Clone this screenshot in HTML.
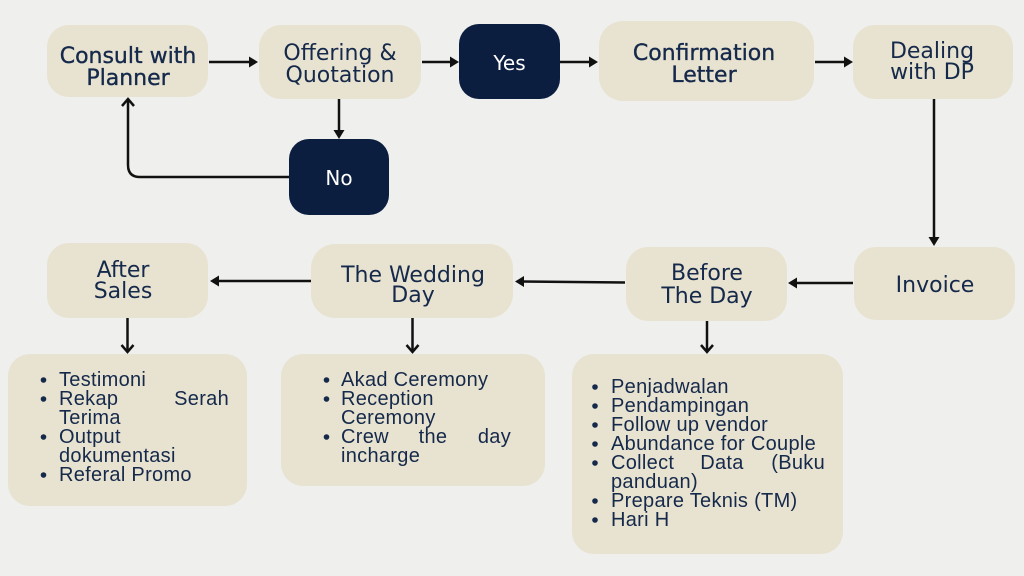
<!DOCTYPE html>
<html>
<head>
<meta charset="utf-8">
<style>
  html,body{margin:0;padding:0;}
  body{width:1024px;height:576px;overflow:hidden;background:#efefee;}
  svg{display:block;}
  .t{font-family:"DejaVu Sans","Liberation Sans",sans-serif;font-size:22px;fill:#15294b;text-anchor:middle;}
  .sb{stroke:#15294b;stroke-width:0.35px;}
  .w{fill:#ffffff;font-size:20px;}
  .l{font-family:"Liberation Sans",sans-serif;font-size:20px;fill:#15294b;letter-spacing:0.3px;}
  .box{fill:#e8e2d0;}
  .nav{fill:#0b1e40;}
  .ln{stroke:#111;stroke-width:2.5;fill:none;}
  .hd{fill:#111;}
  .bl{fill:#15294b;}
</style>
</head>
<body>
<svg width="1024" height="576" viewBox="0 0 1024 576" xmlns="http://www.w3.org/2000/svg">
  <rect x="0" y="0" width="1024" height="576" fill="#efefee"/>

  <!-- Top row boxes -->
  <rect class="box" x="47" y="25" width="161" height="72" rx="22"/>
  <rect class="box" x="259" y="25" width="162" height="74" rx="22"/>
  <rect class="nav" x="459" y="24" width="101" height="75" rx="20"/>
  <rect class="nav" x="289" y="139" width="100" height="76" rx="20"/>
  <rect class="box" x="599" y="21" width="215" height="80" rx="24"/>
  <rect class="box" x="853" y="25" width="160" height="74" rx="22"/>

  <!-- Middle row boxes -->
  <rect class="box" x="854" y="247" width="161" height="73" rx="22"/>
  <rect class="box" x="626" y="247" width="161" height="74" rx="22"/>
  <rect class="box" x="311" y="244" width="202" height="74" rx="24"/>
  <rect class="box" x="47" y="243" width="161" height="75" rx="22"/>

  <!-- List boxes -->
  <rect class="box" x="8" y="354" width="239" height="152" rx="22"/>
  <rect class="box" x="281" y="354" width="264" height="132" rx="22"/>
  <rect class="box" x="572" y="354" width="271" height="200" rx="22"/>

  <!-- Connectors -->
  <line class="ln" x1="209" y1="62" x2="251" y2="62"/>
  <polygon class="hd" points="258,62 249,56.5 249,67.5"/>

  <line class="ln" x1="422" y1="62" x2="452" y2="62"/>
  <polygon class="hd" points="459,62 450,56.5 450,67.5"/>

  <line class="ln" x1="560" y1="62" x2="591" y2="62"/>
  <polygon class="hd" points="598,62 589,56.5 589,67.5"/>

  <line class="ln" x1="815" y1="62" x2="846" y2="62"/>
  <polygon class="hd" points="853,62 844,56.5 844,67.5"/>

  <line class="ln" x1="339" y1="99" x2="339" y2="132"/>
  <polygon class="hd" points="339,139 333.5,130 344.5,130"/>

  <path class="ln" d="M289,177 L140,177 Q128,177 128,165 L128,100"/>
  <polyline class="ln" points="122,106 128,99 134,106" stroke-linejoin="miter"/>

  <line class="ln" x1="934" y1="99" x2="934" y2="238"/>
  <polygon class="hd" points="934,246 928.5,237 939.5,237"/>

  <line class="ln" x1="853" y1="283" x2="795" y2="283"/>
  <polygon class="hd" points="788,283 797,277.5 797,288.5"/>

  <line class="ln" x1="625" y1="282.5" x2="522" y2="281.5"/>
  <polygon class="hd" points="515,281.5 524,276 524,287"/>

  <line class="ln" x1="311" y1="281" x2="217" y2="281"/>
  <polygon class="hd" points="210,281 219,275.5 219,286.5"/>

  <line class="ln" x1="127.5" y1="318" x2="127.5" y2="351"/>
  <polyline class="ln" points="121.5,345 127.5,352 133.5,345"/>

  <line class="ln" x1="412.5" y1="318" x2="412.5" y2="351"/>
  <polyline class="ln" points="406.5,345 412.5,352 418.5,345"/>

  <line class="ln" x1="707" y1="321" x2="707" y2="351"/>
  <polyline class="ln" points="701,345 707,352 713,345"/>

  <!-- Titles -->
  <text class="t sb" x="128" y="63">Consult with</text>
  <text class="t sb" x="128" y="85">Planner</text>

  <text class="t" x="340" y="60">Offering &amp;</text>
  <text class="t" x="340" y="82">Quotation</text>

  <text class="t w" x="509.5" y="70">Yes</text>
  <text class="t w" x="339" y="185">No</text>

  <text class="t sb" x="704" y="60">Confirmation</text>
  <text class="t sb" x="704" y="82">Letter</text>

  <text class="t" x="932" y="58">Dealing</text>
  <text class="t" x="932" y="79">with DP</text>

  <text class="t" x="935" y="292">Invoice</text>

  <text class="t" x="707" y="280">Before</text>
  <text class="t" x="707" y="303">The Day</text>

  <text class="t" x="413" y="282">The Wedding</text>
  <text class="t" x="413" y="302">Day</text>

  <text class="t" x="123" y="277">After</text>
  <text class="t" x="123" y="298">Sales</text>

  <!-- After Sales list -->
  <circle class="bl" cx="43.5" cy="380" r="2.8"/>
  <circle class="bl" cx="43.5" cy="399" r="2.8"/>
  <circle class="bl" cx="43.5" cy="437" r="2.8"/>
  <circle class="bl" cx="43.5" cy="475" r="2.8"/>
  <text class="l" x="59" y="386">Testimoni</text>
  <text class="l" x="59" y="405">Rekap</text>
  <text class="l" x="229" y="405" text-anchor="end">Serah</text>
  <text class="l" x="59" y="424">Terima</text>
  <text class="l" x="59" y="443">Output</text>
  <text class="l" x="59" y="462">dokumentasi</text>
  <text class="l" x="59" y="481">Referal Promo</text>

  <!-- Wedding list -->
  <circle class="bl" cx="326.5" cy="380" r="2.8"/>
  <circle class="bl" cx="326.5" cy="399" r="2.8"/>
  <circle class="bl" cx="326.5" cy="437" r="2.8"/>
  <text class="l" x="341" y="386">Akad Ceremony</text>
  <text class="l" x="341" y="405">Reception</text>
  <text class="l" x="341" y="424">Ceremony</text>
  <text class="l" x="341" y="443">Crew</text>
  <text class="l" x="433" y="443" text-anchor="middle">the</text>
  <text class="l" x="511" y="443" text-anchor="end">day</text>
  <text class="l" x="341" y="462">incharge</text>

  <!-- Before the day list -->
  <circle class="bl" cx="595" cy="387" r="2.8"/>
  <circle class="bl" cx="595" cy="406" r="2.8"/>
  <circle class="bl" cx="595" cy="425" r="2.8"/>
  <circle class="bl" cx="595" cy="444" r="2.8"/>
  <circle class="bl" cx="595" cy="463" r="2.8"/>
  <circle class="bl" cx="595" cy="501" r="2.8"/>
  <circle class="bl" cx="595" cy="520" r="2.8"/>
  <text class="l" x="611" y="393">Penjadwalan</text>
  <text class="l" x="611" y="412">Pendampingan</text>
  <text class="l" x="611" y="431">Follow up vendor</text>
  <text class="l" x="611" y="450">Abundance for Couple</text>
  <text class="l" x="611" y="469">Collect</text>
  <text class="l" x="722" y="469" text-anchor="middle">Data</text>
  <text class="l" x="825" y="469" text-anchor="end">(Buku</text>
  <text class="l" x="611" y="488">panduan)</text>
  <text class="l" x="611" y="507">Prepare Teknis (TM)</text>
  <text class="l" x="611" y="526">Hari H</text>
</svg>
</body>
</html>
